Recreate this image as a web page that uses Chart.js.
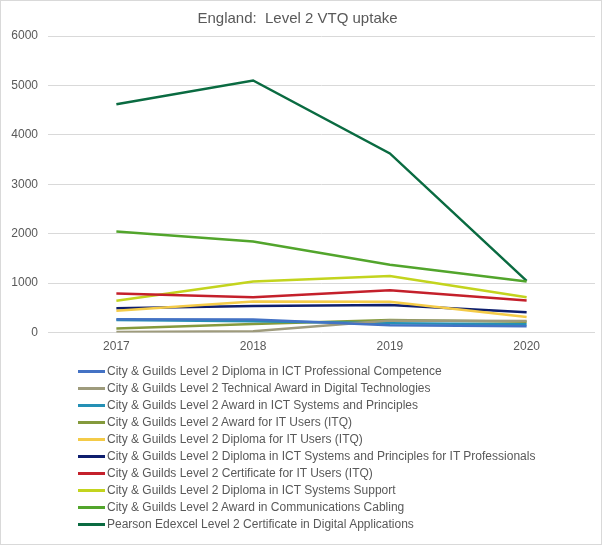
<!DOCTYPE html>
<html>
<head>
<meta charset="utf-8">
<script src="https://cdn.jsdelivr.net/npm/chart.js@4.4.1/dist/chart.umd.min.js"></script>
<style>
  html, body { margin: 0; padding: 0; background: #fff; }
  #frame { position: relative; width: 602px; height: 545px; box-sizing: border-box; border: 1px solid #d9d9d9; overflow: hidden; }
  #wrap { position: absolute; left: -1px; top: -1px; width: 602px; height: 369px; }
  #legend { position: absolute; left: 77px; top: 362px; font-family: "Liberation Sans", Arial, sans-serif; font-size: 12px; color: #595959; }
  .row { height: 17px; line-height: 17px; white-space: nowrap; display: flex; align-items: center; }
  .swatch { display: inline-block; width: 27px; height: 3px; margin-right: 2px; }
</style>
</head>
<body>
<div id="frame">
  <div id="wrap"><canvas id="vtqChart"></canvas></div>
  <div id="legend"></div>
</div>
<script>
const years = ["2017", "2018", "2019", "2020"];
const yTicks = [0, 1000, 2000, 3000, 4000, 5000, 6000];

const qualNames = [
  "City & Guilds Level 2 Diploma in ICT Professional Competence",
  "City & Guilds Level 2 Technical Award in Digital Technologies",
  "City & Guilds Level 2 Award in ICT Systems and Principles",
  "City & Guilds Level 2 Award for IT Users (ITQ)",
  "City & Guilds Level 2 Diploma for IT Users (ITQ)",
  "City & Guilds Level 2 Diploma in ICT Systems and Principles for IT Professionals",
  "City & Guilds Level 2 Certificate for IT Users (ITQ)",
  "City & Guilds Level 2 Diploma in ICT Systems Support",
  "City & Guilds Level 2 Award in Communications Cabling",
  "Pearson Edexcel Level 2 Certificate in Digital Applications"
];

// uptake per year, one array per qualification
const ictProfCompetence = [270, 265, 150, 130];
const techAwardDigital = [10, 25, 245, 235];
const awardIctSystems = [255, 230, 190, 170];
const awardItUsers = [85, 175, 255, 220];
const diplomaItUsers = [440, 630, 625, 315];
const diplomaIctProfessionals = [495, 540, 560, 410];
const certItUsers = [790, 715, 855, 650];
const diplomaSystemsSupport = [645, 1035, 1145, 715];
const commsCabling = [2047, 1845, 1372, 1034];
const pearsonDigitalApps = [4620, 5100, 3624, 1045];

const seriesValues = [
  ictProfCompetence, techAwardDigital, awardIctSystems, awardItUsers, diplomaItUsers,
  diplomaIctProfessionals, certItUsers, diplomaSystemsSupport, commsCabling, pearsonDigitalApps
];

const lineColors = [
  "#4472C4", "#9E9B7C", "#2590B5", "#849A3C", "#F4CB48",
  "#0E1E6E", "#C4202B", "#C3D41E", "#52A52C", "#0A6B41"
];

const fontFamily = '"Liberation Sans", Arial, sans-serif';

document.addEventListener("DOMContentLoaded", () => {
  const ctx = document.getElementById("vtqChart").getContext("2d");

  const datasets = qualNames.map((name, i) => ({
    label: name,
    data: seriesValues[i],
    borderColor: lineColors[i],
    backgroundColor: lineColors[i],
    borderWidth: 2.5,
    pointRadius: 0,
    tension: 0,
    fill: false
  }));

  const chart = new Chart(ctx, {
    type: "line",
    data: { labels: years, datasets: datasets },
    options: {
      responsive: true,
      maintainAspectRatio: false,
      animation: false,
      layout: { padding: { left: 0, right: 7, top: 0, bottom: 8 } },
      plugins: {
        legend: { display: false },
        tooltip: { enabled: false },
        title: {
          display: true,
          text: "England:  Level 2 VTQ uptake",
          color: "#595959",
          font: { family: fontFamily, size: 15, weight: "normal" },
          padding: { top: 10, bottom: 8 }
        }
      },
      scales: {
        x: {
          offset: true,
          grid: { display: false, drawTicks: false },
          border: { display: false },
          ticks: { color: "#595959", font: { family: fontFamily, size: 12 }, padding: 7 }
        },
        y: {
          min: 0,
          max: 6000,
          afterBuildTicks: axis => { axis.ticks = yTicks.map(v => ({ value: v })); },
          afterFit: axis => { axis.width = 48; },
          grid: { color: "#d9d9d9", drawTicks: false },
          border: { display: false },
          ticks: {
            color: "#595959",
            font: { family: fontFamily, size: 12 },
            padding: 10,
            callback: v => String(v)
          }
        }
      }
    }
  });

  // legend as one entry per row, built from the chart's datasets
  const legend = document.getElementById("legend");
  chart.data.datasets.forEach(ds => {
    const row = document.createElement("div");
    row.className = "row";
    const sw = document.createElement("span");
    sw.className = "swatch";
    sw.style.background = ds.borderColor;
    row.appendChild(sw);
    row.appendChild(document.createTextNode(ds.label));
    legend.appendChild(row);
  });
});
</script>
</body>
</html>
